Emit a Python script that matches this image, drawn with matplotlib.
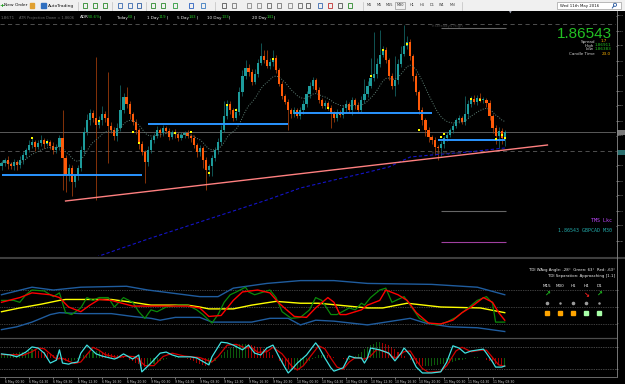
import numpy as np
import pandas as pd
import matplotlib
matplotlib.use("Agg")
import matplotlib.pyplot as plt
from matplotlib.lines import Line2D
from matplotlib.patches import Rectangle, Circle

W, H = 625, 384

# GBPCAD M30 closes, in pips above 1.8600
first_open = 20
close_pips = [
    23, 26, 22, 20, 24, 21, 26, 31, 36, 41,
    44, 39, 43, 46, 42, 44, 40, 36, 39, 48,
    28, 11, 18, 4, 10, 18, 36, 54, 66, 73,
    68, 61, 66, 72, 68, 60, 56, 50, 58, 76,
    89, 82, 72, 64, 56, 42, 34, 24, 36, 46,
    50, 56, 53, 58, 55, 49, 54, 52, 48, 51,
    53, 50, 48, 41, 34, 38, 26, 16, 20, 28,
    36, 44, 56, 70, 82, 76, 68, 74, 94, 110,
    118, 114, 104, 112, 123, 130, 126, 120, 124, 128,
    116, 102, 90, 84, 76, 72, 76, 70, 76, 82,
    92, 100, 106, 96, 86, 80, 83, 78, 73, 68,
    74, 71, 78, 82, 76, 86, 81, 76, 86, 92,
    100, 108, 112, 122, 131, 136, 126, 110, 100, 106,
    122, 132, 140, 144, 130, 110, 94, 76, 66, 56,
    49, 46, 39, 38, 42, 48, 51, 56, 60, 66,
    68, 64, 72, 82, 87, 84, 88, 86, 86, 83,
    70, 58, 50, 55, 48, 54,
]
wick_up = [
    3, 2, 4, 2, 3, 2, 4, 3, 2, 5,
    4, 2, 3, 5, 2, 3, 2, 4, 3, 3,
    28, 3, 4, 3, 2, 3, 4, 5, 6, 4,
    3, 61, 4, 8, 3, 46, 4, 3, 5, 25,
    4, 10, 3, 2, 3, 2, 3, 2, 4, 3,
    3, 4, 2, 3, 2, 3, 2, 3, 2, 3,
    2, 3, 2, 3, 2, 3, 2, 3, 2, 3,
    3, 4, 5, 15, 4, 3, 2, 4, 5, 6,
    8, 4, 3, 5, 4, 13, 6, 10, 4, 8,
    3, 2, 3, 2, 3, 2, 3, 2, 3, 4,
    3, 4, 3, 2, 3, 2, 3, 2, 3, 2,
    3, 2, 3, 4, 2, 3, 2, 3, 4, 15,
    5, 20, 42, 6, 25, 4, 3, 2, 3, 24,
    5, 8, 21, 6, 3, 2, 3, 2, 3, 2,
    3, 2, 3, 2, 3, 2, 3, 2, 3, 2,
    3, 2, 18, 4, 3, 4, 3, 5, 3, 2,
    3, 2, 3, 4, 3, 2,
]
wick_dn = [
    4, 3, 5, 3, 4, 5, 3, 4, 3, 2,
    3, 4, 2, 3, 4, 2, 3, 4, 3, 3,
    32, 17, 6, 14, 5, 4, 3, 4, 3, 5,
    4, 75, 3, 5, 4, 37, 3, 4, 5, 3,
    3, 4, 5, 3, 4, 5, 3, 21, 4, 3,
    3, 2, 4, 3, 2, 3, 2, 4, 3, 2,
    3, 2, 4, 3, 5, 4, 8, 20, 6, 10,
    3, 4, 3, 2, 3, 4, 3, 2, 3, 4,
    3, 4, 3, 2, 3, 2, 3, 2, 3, 4,
    3, 2, 3, 2, 20, 4, 3, 2, 3, 4,
    3, 4, 3, 2, 3, 2, 3, 2, 15, 4,
    3, 2, 3, 4, 3, 5, 4, 3, 2, 3,
    3, 2, 3, 4, 3, 2, 3, 4, 3, 10,
    4, 3, 2, 3, 4, 5, 3, 4, 5, 6,
    5, 4, 8, 12, 8, 4, 3, 2, 3, 2,
    3, 2, 3, 4, 3, 2, 3, 2, 3, 4,
    4, 5, 8, 12, 6, 8,
]

fractal_idx = [10, 15, 32, 43, 45, 57, 62, 68, 74, 77, 89, 107, 121, 125, 133, 137, 144, 145, 154, 157, 162, 164, 165]
fractal_pips = [48, 44, 65, 54, 43, 53, 54, 13, 81, 76, 127, 78, 110, 136, 142, 56, 49, 52, 87, 86, 47, 51, 48]

slow_ma_idx = [26, 32, 49, 65, 87, 98, 109, 119, 127, 134, 141, 153, 165]
slow_ma_pips = [-78, -70, -52, -36, -14, -2, 6, 13, 19, 29, 31, 34, 38]

trend_idx = [21, 179]
trend_pips = [-15, 41]

# support / resistance boxes: level, from index, to index
sr_levels = [11, 62, 73, 46]
sr_start = [0, 48, 96, 143]
sr_end = [46, 94, 141, 165]

bid_pips = 54.3
yday_high_pips = 162
yday_low_pips = 35
obj_start, obj_end = 144, 165.5
obj_levels = [158, -25, -56]
obj_colours = ["#666666", "#666666", "#a040a0"]

# TDI panel
tdi_up_idx = [0, 10, 17, 26, 41, 48, 65, 71, 76, 87, 98, 109, 120, 141, 156, 165]
tdi_up_val = [63, 71, 68, 71, 72, 68, 61, 61, 70, 75, 78, 78, 75, 74, 71, 63]
tdi_lo_idx = [0, 5, 10, 16, 19, 26, 36, 43, 49, 52, 57, 65, 69, 82, 88, 94, 98, 103, 109, 120, 134, 139, 147, 156, 165]
tdi_lo_val = [26, 29, 34, 42, 44, 43, 43, 40, 38, 36, 39, 39, 34, 34, 38, 38, 31, 36, 35, 31, 38, 33, 29, 28, 24]
tdi_mb_idx = [0, 6, 13, 19, 21, 36, 43, 49, 61, 65, 68, 76, 82, 90, 98, 104, 120, 125, 133, 144, 157, 165]
tdi_mb_val = [45, 49, 53, 57, 58, 58, 55, 52, 52, 50, 48, 48, 52, 56, 54, 54, 49, 49, 54, 50, 49, 44]
tdi_red_idx = [0, 6, 10, 16, 19, 22, 26, 29, 32, 36, 43, 52, 61, 65, 68, 72, 76, 79, 84, 88,
               91, 96, 100, 103, 107, 109, 111, 113, 118, 120, 124, 126, 130, 133, 136, 140, 144, 148, 151, 154,
               158, 161, 163, 165]
tdi_red_val = [55, 60, 65, 63, 60, 50, 45, 52, 58, 57, 51, 51, 51, 49, 40, 41, 57, 66, 68, 65,
               54, 40, 39, 49, 60, 55, 42, 42, 47, 52, 57, 68, 63, 57, 44, 33, 32, 36, 44, 50,
               60, 55, 44, 36]
tdi_grn_idx = [0, 4, 6, 8, 10, 14, 17, 19, 21, 23, 26, 28, 30, 32, 35, 37, 40, 43, 45, 47,
               49, 51, 54, 58, 61, 64, 66, 69, 71, 73, 75, 77, 80, 81, 83, 86, 88, 90, 92, 95,
               98, 101, 103, 105, 108, 110, 114, 116, 118, 119, 121, 124, 126, 128, 132, 134, 137, 140, 143, 146,
               149, 153, 156, 159, 161, 162, 165]
tdi_grn_val = [57, 57, 55, 63, 68, 67, 61, 65, 44, 42, 49, 60, 57, 60, 60, 50, 60, 55, 45, 38,
               47, 45, 50, 52, 52, 47, 42, 33, 42, 55, 63, 66, 71, 66, 63, 66, 68, 60, 45, 38,
               39, 47, 60, 57, 42, 42, 49, 47, 54, 52, 60, 68, 70, 55, 61, 52, 38, 33, 31, 34,
               39, 49, 57, 61, 54, 34, 34]
tdi_levels = [68, 50, 32]

tf_names = ["M15", "M30", "H1", "H4", "D1"]
tf_arrows = ["\u2197", "", "", "\u2198", "\u2197"]
tf_arrow_colours = ["#20c020", "none", "none", "#ff2020", "#20c020"]
tf_dot_sizes = [1.6, 0.8, 1.6, 1.6, 0.8]
tf_box_colours = ["#ffa500", "#ffa500", "#ffa500", "#a8ffa8", "#a8ffa8"]

# lower oscillator
osc_fast_idx = [0, 3, 5, 8, 10, 12, 14, 16, 18, 19, 20, 22, 23, 25, 26, 28, 29, 31, 33, 37,
                38, 40, 43, 45, 46, 49, 52, 54, 56, 58, 62, 64, 68, 69, 72, 74, 76, 79, 81, 83,
                85, 87, 89, 91, 93, 94, 95, 97, 100, 103, 104, 106, 108, 109, 112, 114, 116, 118, 119, 120,
                121, 124, 127, 129, 131, 132, 134, 136, 138, 141, 144, 146, 148, 150, 152, 154, 158, 159, 161, 162,
                164, 165]
osc_fast_val = [62, 59, 54, 67, 81, 78, 64, 37, 45, 73, 37, 34, 37, 40, 64, 86, 78, 62, 56, 48,
                51, 62, 48, 59, 13, 37, 64, 67, 59, 54, 54, 51, 32, 54, 94, 92, 86, 73, 86, 64,
                59, 78, 86, 54, 24, 10, 18, 37, 59, 92, 81, 51, 24, 15, 24, 56, 51, 51, 37, 51,
                78, 73, 64, 43, 64, 78, 59, 26, 10, 10, 13, 40, 84, 78, 64, 70, 75, 64, 40, 26,
                26, 29]
osc_slow_idx = [0, 5, 7, 10, 12, 14, 16, 18, 20, 22, 24, 26, 28, 30, 32, 34, 38, 41, 44, 47,
                50, 53, 56, 60, 65, 69, 71, 74, 77, 80, 82, 84, 87, 89, 92, 95, 97, 99, 101, 104,
                106, 108, 110, 112, 114, 116, 119, 121, 123, 126, 129, 132, 134, 136, 138, 140, 144, 146, 149, 151,
                154, 157, 159, 161, 163, 165]
osc_slow_val = [60, 60, 58, 68, 78, 76, 62, 48, 50, 42, 36, 40, 60, 80, 72, 60, 52, 56, 54, 30,
                30, 55, 64, 56, 52, 40, 55, 86, 88, 78, 80, 66, 68, 80, 62, 30, 18, 30, 52, 84,
                76, 50, 26, 20, 40, 52, 48, 56, 74, 68, 50, 68, 70, 44, 22, 12, 14, 30, 70, 80,
                68, 72, 72, 52, 32, 28]
osc_hist = [
    8, 10, 12, 12, 14, 14, 16, 16, 18, 20,
    24, 22, 20, 18, 16, 14, 12, 10, 8, 4,
    -4, -8, -10, -8, -6, -2, 4, 8, 12, 16,
    18, 20, 20, 18, 16, 14, 12, 10, 8, 6,
    4, 0, -4, -8, -12, -16, -20, -24, -22, -20,
    -16, -12, -8, -4, -2, 0, 2, 4, 4, 2,
    0, -2, -4, -8, -12, -16, -18, -20, -18, -14,
    -8, 0, 8, 16, 22, 28, 32, 36, 38, 40,
    40, 38, 36, 34, 32, 30, 26, 22, 16, 8,
    0, -8, -16, -22, -28, -30, -30, -28, -24, -20,
    -14, -8, -2, 4, 8, 10, 10, 8, 6, 4,
    2, 0, -2, -4, -4, 0, 6, 12, 18, 24,
    30, 36, 40, 44, 44, 42, 40, 36, 30, 24,
    18, 12, 6, 0, -6, -12, -16, -18, -20, -20,
    -20, -20, -18, -18, -16, -16, -14, -12, -10, -8,
    -6, -4, -2, 0, 2, 4, 4, 2, 0, -4,
    -8, -12, -16, -18, -20, -20,
]
osc_mid = 50
osc_levels = [80, 20]

time_labels = [
    "6 May 00:30", "6 May 04:30", "6 May 08:30", "6 May 12:30", "6 May 16:30", "6 May 20:30",
    "9 May 00:30", "9 May 04:30", "9 May 08:30", "9 May 12:30", "9 May 16:30", "9 May 20:30",
    "10 May 00:30", "10 May 04:30", "10 May 08:30", "10 May 12:30", "10 May 16:30", "10 May 20:30",
    "11 May 00:30", "11 May 04:30", "11 May 08:30",
]
time_label_idx = [1 + 8 * k for k in range(len(time_labels))]

adr_names = ["ADR", "Today", "1 Day", "5 Day", "10 Day", "20 Day"]
adr_values = ["50.6%", "63", "119", "143", "133", "141"]

TEAL, TEAL_W = "#1d9c9c", "#167474"
ORANGE, ORANGE_W = "#ff5a08", "#b8450c"

fig = plt.figure(figsize=(W / 100, H / 100), dpi=100, facecolor="black")


def px_axes(x0, y0, x1, y1):
    a = fig.add_axes([x0 / W, 1 - y1 / H, (x1 - x0) / W, (y1 - y0) / H])
    a.set_facecolor("black")
    for s in a.spines.values():
        s.set_visible(False)
    return a


def ftext(x, y, s, **kw):
    kw.setdefault("va", "center")
    kw.setdefault("fontsize", 3)
    kw.setdefault("color", "#d0d0d0")
    fig.text(x / W, 1 - y / H, s, **kw)


def fline(x0, y0, x1, y1, **kw):
    fig.add_artist(Line2D([x0 / W, x1 / W], [1 - y0 / H, 1 - y1 / H],
                          transform=fig.transFigure, **kw))


def right_scale(a, ticks, labels):
    # the price strip is only 9 px wide, so the scale text is tiny and narrow
    a.yaxis.tick_right()
    a.set_yticks(ticks)
    a.set_yticklabels(labels, family="Liberation Sans")
    a.tick_params(axis="y", labelsize=1.6, colors="#c8c8c8", length=0.6, width=0.4, pad=0.3)


x_lim = (-1.5 / 3.05, (616 - 1.5) / 3.05)

# ---------------- main price chart ----------------
ax = px_axes(0, 11, 616, 256)
ax.set_xlim(*x_lim)
ax.set_ylim(-70, 175)
ax.set_xticks([])

closes = np.array(close_pips, float)
opens = np.r_[first_open, closes[:-1]]
idx = np.arange(len(closes))
up = closes >= opens
top = np.maximum(opens, closes)
bot = np.minimum(opens, closes)
highs = top + np.array(wick_up)
lows = bot - np.array(wick_dn)

ax.axhline(bid_pips, color="#5a5a5a", lw=0.7, zorder=1)
ax.axhline(yday_low_pips, color="#5c5c5c", lw=0.6, ls=(0, (5, 4)), zorder=1)
ax.axhline(yday_high_pips, color="#5c5c5c", lw=0.6, ls=(0, (5, 4)), zorder=1)

ax.vlines(idx, lows, highs, colors=np.where(up, TEAL_W, ORANGE_W), lw=0.5, zorder=2)
ax.bar(idx, np.maximum(top - bot, 0.9), bottom=bot, width=0.7,
       color=np.where(up, TEAL, ORANGE), lw=0, zorder=3)

ema = pd.Series(closes).ewm(span=14).mean()
ax.plot(idx, ema, color="#5f8077", lw=0.7, ls=(0, (1, 1.6)), zorder=4)
ax.plot(slow_ma_idx, slow_ma_pips, color="#1414c8", lw=0.8, ls=(0, (3, 2)), zorder=4)
ax.plot(trend_idx, trend_pips, color="#ff8080", lw=1.0, zorder=5)
ax.hlines(sr_levels, sr_start, sr_end, color="#2a95ff", lw=1.4, zorder=5)
ax.hlines(obj_levels, obj_start, obj_end, colors=obj_colours, lw=0.8, zorder=5)
ax.scatter(fractal_idx, fractal_pips, marker="s", s=4.5, c="#ffff00", lw=0, zorder=6)

ticks = np.arange(-55, 175, 15)
right_scale(ax, ticks, [f"{1.86 + t / 1e4:.4f}" for t in ticks])

# price boxes on the right scale
fig.patches.append(Rectangle((617 / W, 1 - 134.5 / H), 8 / W, 5 / H, transform=fig.transFigure,
                             facecolor="#7a7a7a", edgecolor="none"))
fig.patches.append(Rectangle((617 / W, 1 - 154.5 / H), 8 / W, 5 / H, transform=fig.transFigure,
                             facecolor="#2a6f6f", edgecolor="none"))

ftext(430, 26.5, "Yesterdays High", color="#3c3c3c")
ftext(430, 153.5, "Yesterdays Low", color="#3c3c3c")
ftext(612, 221, "TMS Lkc", ha="right", color="#c048ff", fontsize=3.6, family="DejaVu Sans Mono")
ftext(612, 230, "1.86543 GBPCAD M30", ha="right", color="#22a8a8", fontsize=3.6, family="DejaVu Sans Mono")

# price info block
ftext(612, 33.5, "1.86543", ha="right", color="#22c022", fontsize=11, family="Liberation Sans")
ftext(595, 41.5, "Spread", ha="right")
ftext(607, 41.5, "1.7", ha="right", color="#ffb400")
ftext(594, 45.5, "High", ha="right")
ftext(611, 45.5, "1.86911", ha="right", color="#22c022")
ftext(594, 49.5, "Low", ha="right")
ftext(611, 49.5, "1.86383", ha="right", color="#22c022")
ftext(595, 54, "Candle Time", ha="right")
ftext(611, 54, "23.0", ha="right", color="#ffb400")

# top info row
ftext(1, 18, "1.8671", color="#6a6a6a")
ftext(19, 18, "ATR Projection Down = 1.8606", color="#6a6a6a", fontsize=2.6)
adr_x = [80, 116, 147, 177, 207, 252]
for x, name, val in zip(adr_x, adr_names, adr_values):
    ftext(x, 17.5, name, color="#f0f0f0")
    ftext(x + 2.2 * len(name) + 1, 17.5, val, color="#22c022")
    ftext(x + 2.2 * len(name) + 2.2 * len(val) + 2, 17.5, "|", color="#f0f0f0")
ftext(510, 12.5, "\u25bc", ha="center", color="#9aa0b0", fontsize=2.5)

# ---------------- TDI panel ----------------
tx = px_axes(0, 259, 616, 337)
tx.set_xlim(*x_lim)
tx.set_ylim(18.2, 100.9)
tx.set_xticks([])
for lv in tdi_levels:
    tx.axhline(lv, color="#7a7a7a", lw=0.5, ls=(0, (1, 1.5)))
tx.plot(tdi_up_idx, tdi_up_val, color="#1f5c9e", lw=1.0)
tx.plot(tdi_lo_idx, tdi_lo_val, color="#1f5c9e", lw=1.0)
tx.plot(tdi_mb_idx, tdi_mb_val, color="#ffff00", lw=1.0)
tx.plot(tdi_grn_idx, tdi_grn_val, color="#0a8a0a", lw=0.9)
tx.plot(tdi_red_idx, tdi_red_val, color="#ff0000", lw=1.0)
right_scale(tx, tdi_levels, [str(v) for v in tdi_levels])

ftext(615, 270, "TDI WAvg Angle: -28\u00b0  Green: 63\u00b0  Red: -63\u00b0", ha="right", fontsize=2.8, color="#f0f0f0")
ftext(615, 276, "TDI Separation: Approaching [1.1]", ha="right", fontsize=2.8, color="#f0f0f0")
col_x = [547, 560, 573, 586, 599]
for x, name, arr, ac, ds, bc in zip(col_x, tf_names, tf_arrows, tf_arrow_colours, tf_dot_sizes, tf_box_colours):
    ftext(x, 286, name, ha="center", fontsize=3, color="#f0f0f0")
    if arr:
        ftext(x, 295, arr, ha="center", fontsize=5, color=ac, weight="bold")
    fig.add_artist(Line2D([x / W], [1 - 303 / H], marker="o", ms=ds, color="#9a9a9a",
                          transform=fig.transFigure))
    fig.add_artist(Line2D([x / W], [1 - 313 / H], marker="s", ms=2.6, color=bc,
                          transform=fig.transFigure))

# ---------------- lower oscillator ----------------
ox = px_axes(0, 339, 616, 377)
ox.set_xlim(*x_lim)
ox.set_ylim(-1, 102.6)
hist = np.array(osc_hist, float)
rising = np.r_[True, hist[1:] >= hist[:-1]]
ox.bar(np.arange(len(hist)), hist, bottom=osc_mid, width=0.35,
       color=np.where(rising, "#0c5a0c", "#a00000"), lw=0)
for lv in osc_levels:
    ox.axhline(lv, color="#8a8a8a", lw=0.5, ls=(0, (1, 1.5)))
ox.plot(osc_slow_idx, osc_slow_val, color="#d00000", lw=0.9)
ox.plot(osc_fast_idx, osc_fast_val, color="#40e0e0", lw=0.9)
right_scale(ox, osc_levels, [str(v) for v in osc_levels])
ox.set_xticks(time_label_idx)
ox.set_xticklabels(time_labels, ha="left")
ox.tick_params(axis="x", labelsize=2.25, colors="#c8c8c8", length=1.5, width=0.4, pad=1)

# frame lines
fline(0, 257.6, 625, 257.6, color="#3e3e3e", lw=1.5)
fline(0, 338, 616, 338, color="#4c4c4c", lw=0.9)
fline(0, 377.3, 616, 377.3, color="#7a7a7a", lw=0.6)
fline(616.5, 11, 616.5, 377.3, color="#8a8a8a", lw=0.6)

# ---------------- toolbar ----------------
tb = px_axes(0, 0, 625, 11)
tb.set_facecolor("#f0f0f0")
tb.set_xlim(0, 625)
tb.set_ylim(11, 0)
tb.set_xticks([])
tb.set_yticks([])
tb.axhline(10.6, color="#b8b8b8", lw=0.6)
tb.text(1.8, 5.5, "+", color="#1a9a1a", fontsize=4.5, weight="bold", ha="center", va="center")
tb.text(4, 5.5, "New Order", fontsize=3.2, va="center", color="#111111")
tb.add_patch(Rectangle((30, 3), 4, 4.5, color="#e0a030"))
tb.add_patch(Rectangle((41, 3), 5, 4.5, color="#3070c0"))
tb.text(48, 5.5, "AutoTrading", fontsize=3.2, va="center", color="#111111")
for sx in [78, 112, 146, 215, 363, 462]:
    tb.plot([sx, sx], [1.5, 9.5], color="#c0c0c0", lw=0.5)
icon_x = [83, 93, 103, 118, 128, 137, 151, 161, 173, 189, 201,
          222, 232, 247, 257, 267, 277, 288, 298, 306, 318, 328, 338, 348]
icon_c = ["#2a8a2a", "#2a8a2a", "#2a8a2a", "#3a6ab0", "#3a6ab0", "#2a5aa0", "#2a8a2a", "#2a8a2a",
          "#2a9a3a", "#2a60c0", "#3a7ac0", "#555555", "#777777", "#888888", "#888888", "#666666",
          "#777777", "#888888", "#666666", "#555555", "#3a6ab0", "#c03030", "#555555", "#2a8a2a"]
for x, c in zip(icon_x, icon_c):
    tb.add_patch(Rectangle((x, 3), 4, 4.5, facecolor="none", edgecolor=c, lw=0.6))
tf_x = [369, 379, 389, 400, 412, 422, 432, 442, 452]
for x, name in zip(tf_x, ["M1", "M5", "M15", "M30", "H1", "H4", "D1", "W1", "MN"]):
    tb.text(x, 5.5, name, fontsize=2.5, va="center", ha="center", color="#333333")
tb.add_patch(Rectangle((395, 2), 10, 7, facecolor="none", edgecolor="#9a9a9a", lw=0.5))
tb.add_patch(Rectangle((557, 2), 64, 7, facecolor="white", edgecolor="#a0a0a0", lw=0.5))
tb.text(560, 5.5, "Wed 11th May 2016", fontsize=2.8, va="center", color="#111111")
# search magnifier glyph drawn as a shape
tb.add_patch(Circle((615, 4.8), 1.6, facecolor="none", edgecolor="#2a5aa0", lw=0.6))
tb.plot([613.8, 612.3], [6.0, 8.0], color="#2a5aa0", lw=0.7)

fig.savefig("out.png", dpi=100, facecolor="black")
